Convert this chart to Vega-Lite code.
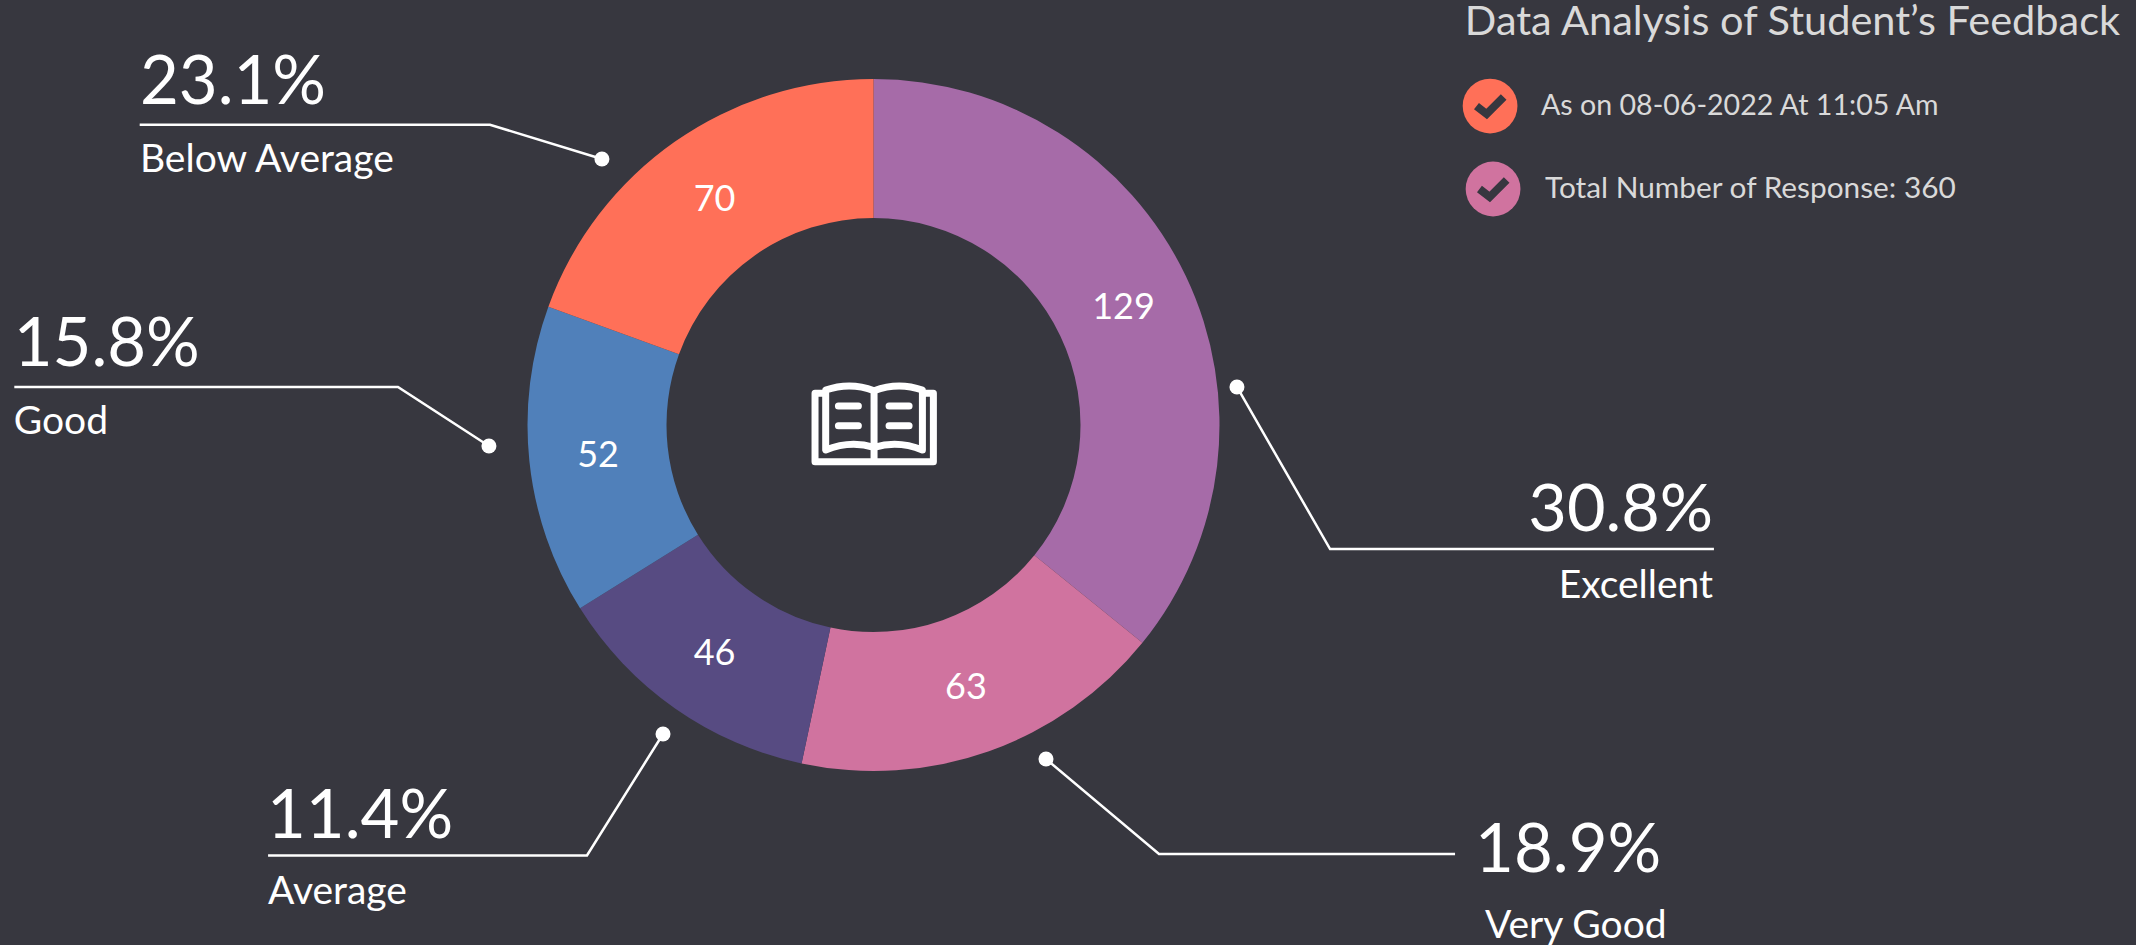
{
"$schema":"https://vega.github.io/schema/vega-lite/v6.json",
"width":2136,"height":945,"padding":0,"autosize":{"type":"none"},
"background":"#37373F",
"config":{"view":{"stroke":null},"font":"Lato"},
"datasets":{
"slices":[
{"category":"Excellent","count":129,"rank":1},
{"category":"Very Good","count":63,"rank":2},
{"category":"Average","count":46,"rank":3},
{"category":"Good","count":52,"rank":4},
{"category":"Below Average","count":70,"rank":5}],
"leaders":[
{"category":"Excellent","step":0,"u":57.91,"v":40.95},{"category":"Excellent","step":1,"u":62.27,"v":58.10},{"category":"Excellent","step":2,"u":80.24,"v":58.10},
{"category":"Very Good","step":0,"u":48.97,"v":80.32},{"category":"Very Good","step":1,"u":54.26,"v":90.37},{"category":"Very Good","step":2,"u":68.12,"v":90.37},
{"category":"Average","step":0,"u":31.04,"v":77.67},{"category":"Average","step":1,"u":27.48,"v":90.53},{"category":"Average","step":2,"u":12.55,"v":90.53},
{"category":"Good","step":0,"u":22.89,"v":47.20},{"category":"Good","step":1,"u":18.63,"v":40.95},{"category":"Good","step":2,"u":0.67,"v":40.95},
{"category":"Below Average","step":0,"u":28.18,"v":16.83},{"category":"Below Average","step":1,"u":22.94,"v":13.20},{"category":"Below Average","step":2,"u":6.54,"v":13.20}],
"shares":[
{"category":"Excellent","pct":"30.8%","u":80.2,"v":56.19,"lu":80.2,"lv":63.27},
{"category":"Very Good","pct":"18.9%","u":69.06,"v":92.28,"lu":69.52,"lv":99.25},
{"category":"Average","pct":"11.4%","u":12.5,"v":88.68,"lu":12.55,"lv":95.66},
{"category":"Good","pct":"15.8%","u":0.64,"v":38.73,"lu":0.64,"lv":45.89},
{"category":"Below Average","pct":"23.1%","u":6.55,"v":11.01,"lu":6.55,"lv":18.16}],
"notes":[
{"note":"As on 08-06-2022 At 11:05 Am","swatch":"Below Average","u":72.14,"v":12.17,"cu":69.76,"cv":11.22},
{"note":"Total Number of Response: 360","swatch":"Very Good","u":72.33,"v":20.92,"cu":69.90,"cv":20.0}],
"heading":[{"note":"Data Analysis of Student’s Feedback","u":68.58,"v":3.7}],
"centre":[{"u":40.92,"v":44.87}]
},
"layer":[
{"data":{"name":"slices"},
 "mark":{"type":"arc","innerRadius":207,"outerRadius":346,"xOffset":-194.5,"yOffset":-47.5},
 "encoding":{
  "theta":{"field":"count","type":"quantitative","stack":true,"scale":{"domain":[0,360]}},
  "order":{"field":"rank","type":"quantitative"},
  "color":{"field":"category","type":"nominal","legend":null,"scale":{"domain":["Excellent","Very Good","Average","Good","Below Average"],"range":["#A66BA8","#D0739F","#574B82","#5080BA","#FF7058"]}}
 }},
{"data":{"name":"slices"},
 "mark":{"type":"text","radius":277,"fontSize":36,"fill":"#ffffff","baseline":"middle","align":"center","xOffset":-194.5,"yOffset":-45.5},
 "encoding":{
  "theta":{"field":"count","type":"quantitative","stack":true,"scale":{"domain":[0,360]}},
  "order":{"field":"rank","type":"quantitative"},
  "detail":{"field":"category"},
  "text":{"field":"count","type":"quantitative"}
 }},
{"encoding":{
"x":{"field":"u","type":"quantitative","scale":{"domain":[0,100],"nice":false,"zero":false},"axis":null},
"y":{"field":"v","type":"quantitative","scale":{"domain":[100,0],"nice":false,"zero":false},"axis":null}
},
"layer":[
{"data":{"name":"leaders"},
 "mark":{"type":"line","stroke":"#ffffff","strokeWidth":2.5},
 "encoding":{"detail":{"field":"category"},"order":{"field":"step","type":"quantitative"}}},
{"data":{"name":"leaders"},"transform":[{"filter":"datum.step===0"}],
 "mark":{"type":"point","shape":"circle","filled":true,"fill":"#ffffff","opacity":1,"size":225,"strokeWidth":0},
 "encoding":{}},
{"data":{"name":"shares"},"transform":[{"filter":"datum.category!=='Excellent'"}],
 "mark":{"type":"text","align":"left","baseline":"alphabetic","fontSize":67,"fill":"#ffffff"},
 "encoding":{"text":{"field":"pct"}}},
{"data":{"name":"shares"},"transform":[{"filter":"datum.category==='Excellent'"}],
 "mark":{"type":"text","align":"right","baseline":"alphabetic","fontSize":66.5,"fill":"#ffffff"},
 "encoding":{"text":{"field":"pct"}}},
{"data":{"name":"shares"},"transform":[{"filter":"datum.category!=='Excellent'"}],
 "mark":{"type":"text","align":"left","baseline":"alphabetic","fontSize":39,"fill":"#ffffff"},
 "encoding":{"x":{"field":"lu","type":"quantitative"},"y":{"field":"lv","type":"quantitative"},"text":{"field":"category"}}},
{"data":{"name":"shares"},"transform":[{"filter":"datum.category==='Excellent'"}],
 "mark":{"type":"text","align":"right","baseline":"alphabetic","fontSize":39,"fill":"#ffffff"},
 "encoding":{"x":{"field":"lu","type":"quantitative"},"y":{"field":"lv","type":"quantitative"},"text":{"field":"category"}}},
{"data":{"name":"heading"},
 "mark":{"type":"text","align":"left","baseline":"alphabetic","fontSize":41.5,"fill":"#D9D9D9"},
 "encoding":{"text":{"field":"note"}}},
{"data":{"name":"notes"},"transform":[{"filter":"datum.swatch==='Below Average'"}],
 "mark":{"type":"text","align":"left","baseline":"alphabetic","fontSize":28.6,"fill":"#D9D9D9"},
 "encoding":{"text":{"field":"note"}}},
{"data":{"name":"notes"},"transform":[{"filter":"datum.swatch==='Very Good'"}],
 "mark":{"type":"text","align":"left","baseline":"alphabetic","fontSize":29.8,"fill":"#D9D9D9"},
 "encoding":{"text":{"field":"note"}}},
{"data":{"name":"notes"},
 "mark":{"type":"point","shape":"circle","filled":true,"opacity":1,"size":3000,"strokeWidth":0},
 "encoding":{"x":{"field":"cu","type":"quantitative"},"y":{"field":"cv","type":"quantitative"},"color":{"field":"swatch","type":"nominal","legend":null}}},
{"data":{"name":"notes"},
 "mark":{"type":"point","shape":"M-0.68,0L-0.17,0.4L0.68,-0.45","filled":false,"fill":null,"stroke":"#37373F","strokeWidth":8,"opacity":1,"size":1600},
 "encoding":{"x":{"field":"cu","type":"quantitative"},"y":{"field":"cv","type":"quantitative"}}},
{"data":{"name":"centre"},
 "mark":{"type":"point","shape":"M-0.79,-0.495L-0.952,-0.495L-0.952,0.608L0.957,0.608L0.957,-0.495L0.796,-0.495M-0.78,0.419L-0.78,-0.548Q-0.387,-0.683,0,-0.538Q0.392,-0.683,0.78,-0.548L0.78,0.419Q0.392,0.258,0,0.376Q-0.387,0.258,-0.78,0.419ZM0,-0.538L0,0.608M-0.575,-0.29L-0.253,-0.29M0.242,-0.29L0.565,-0.29M-0.575,0.027L-0.253,0.027M0.242,0.027L0.565,0.027","filled":false,"fill":null,"stroke":"#ffffff","strokeWidth":7,"strokeCap":"round","strokeJoin":"round","opacity":1,"size":15376},
 "encoding":{}}
]}
]
}
